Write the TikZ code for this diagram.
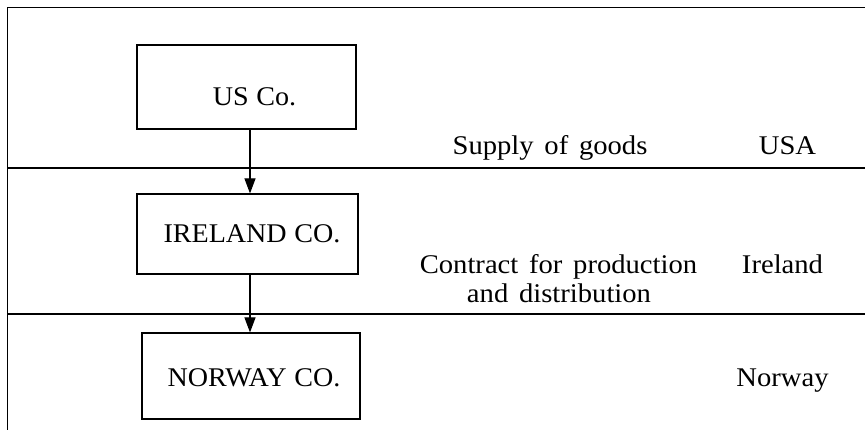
\documentclass[tikz,border=0pt]{standalone}
\usepackage{fontspec}
\setmainfont{Liberation Serif}[FakeStretch=1.06, WordSpace=1.5]
\newfontfamily\boxlabelfont{Liberation Serif}[FakeStretch=1.04, WordSpace=1.1]
\usetikzlibrary{arrows.meta}
\begin{document}
\begin{tikzpicture}[x=1pt,y=1pt,
  line width=1.1pt,
  cobox/.style={draw, rectangle, inner sep=0pt},
  txt/.style={anchor=base, inner sep=0pt, font=\fontsize{27}{29}\selectfont},
  boxtxt/.style={anchor=base, inner sep=0pt, font=\boxlabelfont\fontsize{27}{29}\selectfont},
  arr/.style={-{Triangle[length=15pt,width=11pt]}}]
\useasboundingbox (0,0) rectangle (865,430);
% frame and band separators
\coordinate (tr) at (865,422.5);
\coordinate (tl) at (7.5,422.5);
\coordinate (bl) at (7.5,0);
\coordinate (r1l) at (7.5,262);
\coordinate (r1r) at (865,262);
\coordinate (r2l) at (7.5,116);
\coordinate (r2r) at (865,116);
\draw (tr) -- (tl) -- (bl);
\draw (r1l) -- (r1r);
\draw (r2l) -- (r2r);
% boxes
\node[cobox, minimum width=219pt, minimum height=84pt] (us) at (246.5,343) {};
\node[cobox, minimum width=221pt, minimum height=80pt] (ire) at (247.5,196) {};
\node[cobox, minimum width=218pt, minimum height=86pt] (nor) at (251,54) {};
% box labels
\node[boxtxt] (usl) at (254.5,324) {US Co.};
\node[boxtxt] (irel) at (252,187) {IRELAND CO.};
\node[boxtxt] (norl) at (254,43) {NORWAY CO.};
% arrows
\draw[arr] (us.south -| 250,0) -- (ire.north -| 250,0);
\draw[arr] (ire.south -| 250,0) -- (nor.north -| 250,0);
% right-hand texts
\node[txt] (sup) at (550,275) {Supply of goods};
\node[txt] (usa) at (787.5,275) {USA};
\node[txt] (con1) at (558.5,156) {Contract for production};
\node[txt] (con2) at (559,127) {and distribution};
\node[txt] (irl) at (782.5,156) {Ireland};
\node[txt] (nw) at (782.5,43) {Norway};
\end{tikzpicture}
\end{document}
